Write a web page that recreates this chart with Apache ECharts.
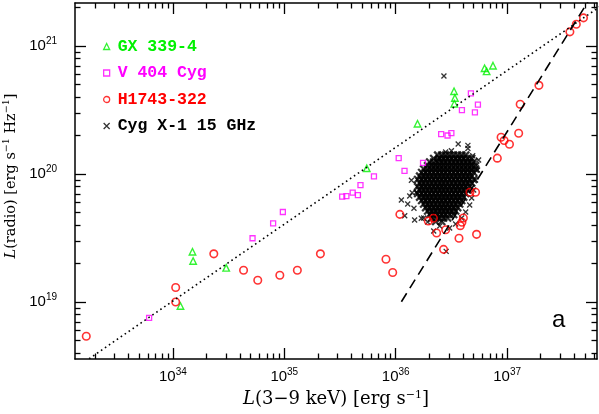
<!DOCTYPE html>
<html><head><meta charset="utf-8">
<script src="https://cdn.jsdelivr.net/npm/echarts@6/dist/echarts.min.js"></script>
<style>html,body{margin:0;padding:0;background:#fff}#c{width:599px;height:414px}</style>
</head><body><div id="c"></div>
<script>
// ---- Data ----
const h1743X = [1.67e33, 1.06e34, 1.06e34, 2.33e34, 4.31e34, 5.78e34, 9.12e34, 1.31e35, 2.11e35, 8.18e35, 9.40e35, 1.09e36, 1.96e36, 2.18e36, 2.33e36, 2.81e36, 2.69e36, 3.70e36, 3.80e36, 3.93e36, 4.05e36, 5.32e36, 4.64e36, 5.21e36, 8.17e36, 8.83e36, 9.40e36, 1.05e37, 1.27e37, 1.31e37, 1.93e37, 3.66e37, 4.18e37, 4.85e37];
const h1743Y = [5.40e18, 1.30e19, 1.00e19, 2.38e19, 1.77e19, 1.48e19, 1.62e19, 1.77e19, 2.38e19, 2.16e19, 1.70e19, 4.84e19, 4.29e19, 4.51e19, 3.46e19, 3.67e19, 2.58e19, 3.15e19, 3.95e19, 4.20e19, 4.53e19, 3.38e19, 7.20e19, 7.20e19, 1.33e20, 1.94e20, 1.83e20, 1.71e20, 2.08e20, 3.51e20, 4.93e20, 1.29e21, 1.48e21, 1.66e21];

const gx339X = [1.50e34, 1.52e34, 1.17e34, 3.01e34, 5.50e35, 1.57e36, 3.34e36, 3.40e36, 3.36e36, 6.28e36, 6.55e36, 7.47e36];
const gx339Y = [2.47e19, 2.09e19, 9.31e18, 1.85e19, 1.108e20, 2.47e20, 4.43e20, 3.93e20, 3.54e20, 6.70e20, 6.34e20, 7.02e20];

const v404X = [6.12e33, 5.19e34, 7.94e34, 9.71e34, 3.31e35, 3.61e35, 4.11e35, 4.58e35, 4.83e35, 6.38e35, 1.064e36, 1.20e36, 1.76e36, 2.56e36, 2.92e36, 3.16e36, 3.93e36, 4.73e36, 5.14e36, 5.47e36];
const v404Y = [7.53e18, 3.15e19, 4.12e19, 5.05e19, 6.67e19, 6.73e19, 7.16e19, 6.85e19, 8.18e19, 9.59e19, 1.33e20, 1.06e20, 1.22e20, 2.05e20, 2.00e20, 2.09e20, 3.16e20, 4.27e20, 3.03e20, 3.48e20];

// Cyg X-1 15 GHz dense cloud: log10 values, one row per radio level [logLr, [logLx ...]]
const cygX1Rows = [
  [20.148, [36.377, 36.413, 36.448, 36.484, 36.520, 36.556, 36.592, 36.628]],
  [20.121, [36.341, 36.395, 36.430, 36.466, 36.502, 36.538, 36.574, 36.610, 36.646, 36.682]],
  [20.094, [36.305, 36.341, 36.377, 36.413, 36.448, 36.484, 36.520, 36.556, 36.592, 36.628, 36.664, 36.700]],
  [20.066, [36.287, 36.323, 36.359, 36.395, 36.430, 36.466, 36.502, 36.538, 36.574, 36.610, 36.646, 36.682, 36.717]],
  [20.039, [36.251, 36.287, 36.323, 36.359, 36.395, 36.430, 36.466, 36.502, 36.538, 36.574, 36.610, 36.646, 36.682, 36.717]],
  [20.012, [36.233, 36.269, 36.305, 36.341, 36.377, 36.413, 36.448, 36.484, 36.520, 36.556, 36.592, 36.628, 36.664, 36.700]],
  [19.984, [36.215, 36.251, 36.287, 36.323, 36.359, 36.395, 36.430, 36.466, 36.502, 36.538, 36.574, 36.610, 36.646, 36.682]],
  [19.957, [36.197, 36.233, 36.269, 36.305, 36.341, 36.377, 36.413, 36.448, 36.484, 36.520, 36.556, 36.592, 36.628, 36.664, 36.700]],
  [19.930, [36.215, 36.251, 36.287, 36.323, 36.359, 36.395, 36.430, 36.466, 36.502, 36.538, 36.574, 36.610, 36.646, 36.682]],
  [19.902, [36.197, 36.233, 36.269, 36.305, 36.341, 36.377, 36.413, 36.448, 36.484, 36.520, 36.556, 36.592, 36.628, 36.664]],
  [19.875, [36.215, 36.251, 36.287, 36.323, 36.359, 36.395, 36.430, 36.466, 36.502, 36.538, 36.574, 36.610, 36.646]],
  [19.848, [36.197, 36.233, 36.269, 36.305, 36.341, 36.377, 36.413, 36.448, 36.484, 36.520, 36.556, 36.592, 36.628]],
  [19.820, [36.215, 36.251, 36.287, 36.323, 36.359, 36.395, 36.430, 36.466, 36.502, 36.538, 36.574, 36.610]],
  [19.793, [36.233, 36.269, 36.305, 36.341, 36.377, 36.413, 36.448, 36.484, 36.520, 36.556, 36.592]],
  [19.766, [36.251, 36.287, 36.323, 36.359, 36.395, 36.430, 36.466, 36.502, 36.538, 36.574]],
  [19.738, [36.269, 36.305, 36.341, 36.377, 36.413, 36.448, 36.484, 36.520, 36.556]],
  [19.711, [36.287, 36.323, 36.359, 36.395, 36.430, 36.466, 36.502, 36.538]],
  [19.684, [36.305, 36.341, 36.377, 36.413, 36.448, 36.484, 36.520]],
  [19.656, [36.323, 36.359, 36.395, 36.430, 36.466]],
  [19.629, [36.359, 36.413]]
];
// Cyg X-1 scattered points around the cloud (log10 Lx, log10 Lr)
const cygX1OutLogX = [36.433, 36.561, 36.648, 36.648, 36.691, 36.448, 36.500, 36.379, 36.141, 36.148, 36.186, 36.051, 36.126, 36.081, 36.164, 36.108, 36.170, 36.230, 36.453, 36.744, 36.735, 36.717, 36.700, 36.682, 36.664, 36.628, 36.592, 36.538, 36.484, 36.395, 36.287, 36.251, 36.341];
const cygX1OutLogY = [20.766, 20.234, 20.224, 20.199, 20.143, 20.172, 20.182, 20.115, 19.951, 19.854, 19.857, 19.797, 19.828, 19.674, 19.732, 19.766, 19.641, 19.654, 19.396, 20.109, 20.031, 19.953, 19.875, 19.813, 19.758, 19.703, 19.656, 19.609, 19.578, 19.594, 19.625, 19.656, 19.555];

// Relations: dotted (slope 0.6) and dashed (slope 1.4) lines, endpoints
const dottedX = [1e33, 1e38];
const dottedY = [2.56e18, 2.56e21];
const dashedX = [1.125e36, 6.0e37];
const dashedY = [1.005e19, 2.63e21];

const xTickValues = [1e34, 1e35, 1e36, 1e37];
const yTickValues = [1e19, 1e20, 1e21];
const X_MIN = 1.323e33, X_MAX = 6.41e37, Y_MIN = 3.589e18, Y_MAX = 2.168e21;

// ---- Build ----
function zip(a, b) { return a.map((v, i) => [v, b[i]]); }
const cygCloud = [];
cygX1Rows.forEach(r => r[1].forEach(lx => cygCloud.push([Math.pow(10, lx), Math.pow(10, r[0])])));
const cygOut = cygX1OutLogX.map((lx, i) => [Math.pow(10, lx), Math.pow(10, cygX1OutLogY[i])]);

function minorTicks(lo, hi) {
  const out = [];
  for (let d = 17; d <= 38; d++) for (let m = 2; m <= 9; m++) {
    const v = m * Math.pow(10, d);
    if (v > lo && v < hi) out.push(v);
  }
  return out;
}
const xMinor = minorTicks(X_MIN, X_MAX), yMinor = minorTicks(Y_MIN, Y_MAX);

const BLACK = '#000';
const tickLabelRich = {
  b: { fontFamily: 'Liberation Sans', fontSize: 15, color: BLACK, lineHeight: 20 },
  s: { fontFamily: 'Liberation Sans', fontSize: 10, color: BLACK, lineHeight: 10, verticalAlign: 'top' }
};
function fmtPow(v) { return '{b|10}{s|' + Math.round(Math.log10(v)) + '}'; }
function nameRich(size, sup, lh) {
  return {
    i: { fontFamily: 'DejaVu Serif', fontStyle: 'italic', fontSize: size, color: BLACK, lineHeight: lh },
    n: { fontFamily: 'DejaVu Serif', fontSize: size, color: BLACK, lineHeight: lh },
    s: { fontFamily: 'DejaVu Serif', fontSize: sup, color: BLACK, lineHeight: sup, verticalAlign: 'top' }
  };
}

function axis(kind, pos, major, withLabels, extra) {
  const isX = kind === 'x';
  const a = {
    type: 'log', logBase: 10, position: pos,
    min: isX ? X_MIN : Y_MIN, max: isX ? X_MAX : Y_MAX,
    axisLine: { show: major, lineStyle: { color: BLACK, width: 1.5 } },
    axisTick: { show: true, inside: true, length: major ? 11 : 5.5,
      customValues: major ? (isX ? xTickValues : yTickValues) : (isX ? xMinor : yMinor),
      lineStyle: { color: BLACK, width: 1.3 } },
    minorTick: { show: false },
    splitLine: { show: false },
    axisLabel: { show: withLabels }
  };
  return Object.assign(a, extra || {});
}

const xAxes = [
  axis('x', 'bottom', true, true, {
    axisLabel: { show: true, customValues: xTickValues, formatter: fmtPow, margin: 8, rich: tickLabelRich },
    name: '{i|L}{n|(3\u22129 keV) [erg s}{s|\u22121}{n|]}',
    nameLocation: 'middle', nameGap: 25,
    nameTextStyle: { rich: nameRich(18, 11, 20) }
  }),
  axis('x', 'bottom', false, false),
  axis('x', 'top', true, false),
  axis('x', 'top', false, false)
];
const yAxes = [
  axis('y', 'left', true, true, {
    axisLabel: { show: true, customValues: yTickValues, formatter: fmtPow, margin: 18, rich: tickLabelRich },
    name: '{i|L}{n|(radio) [erg s}{s|\u22121}{n| Hz}{s|\u22121}{n|]}',
    nameLocation: 'middle', nameGap: 46,
    nameTextStyle: { rich: nameRich(14.5, 9.5, 18), padding: [0, 0, 0, 10] }
  }),
  axis('y', 'left', false, false),
  axis('y', 'right', true, false),
  axis('y', 'right', false, false)
];

const CROSS = 'path://M0,0L10,10M10,0L0,10';
const GREEN = '#00f000', MAGENTA = '#ff00ff', RED = '#ff0000';
const CYG = 'Cyg X-1 15 GHz';

const option = {
  animation: false,
  backgroundColor: '#fff',
  grid: { left: 75, right: 2, top: 3, bottom: 55, containLabel: false, outerBoundsMode: 'none' },
  xAxis: xAxes,
  yAxis: yAxes,
  legend: {
    orient: 'vertical', left: 103, top: 38, padding: 0,
    itemWidth: 6, itemHeight: 6, itemGap: 9.5, selectedMode: false,
    textStyle: { fontFamily: 'Liberation Mono', fontWeight: 'bold', fontSize: 16.5, lineHeight: 16, padding: [0, 0, 0, 3] },
    itemStyle: { borderWidth: 1.3 },
    data: [
      { name: 'GX 339-4', textStyle: { color: GREEN } },
      { name: 'V 404 Cyg', textStyle: { color: MAGENTA } },
      { name: 'H1743-322', textStyle: { color: RED } },
      { name: CYG, textStyle: { color: BLACK } }
    ]
  },
  graphic: [{ type: 'text', left: 552, top: 308, style: { text: 'a', font: '24px "Liberation Sans"', fill: BLACK } }],
  series: [
    { name: 'dotted', type: 'line', data: zip(dottedX, dottedY), showSymbol: false, silent: true, clip: true,
      lineStyle: { color: BLACK, width: 1.6, type: [1.6, 3.2] } },
    { name: 'dashed', type: 'line', data: zip(dashedX, dashedY), showSymbol: false, silent: true, clip: true,
      lineStyle: { color: BLACK, width: 1.6, type: [10, 6] } },
    { name: CYG, type: 'scatter', data: cygOut, symbol: CROSS, symbolSize: 5,
      itemStyle: { color: 'transparent', borderColor: BLACK, borderWidth: 1.3 } },
    { name: CYG, type: 'scatter', data: cygCloud, symbol: CROSS, symbolSize: 7,
      itemStyle: { color: 'transparent', borderColor: BLACK, borderWidth: 2.3 } },
    { name: 'GX 339-4', type: 'scatter', data: zip(gx339X, gx339Y), symbol: 'triangle', symbolSize: 6.5,
      itemStyle: { color: 'transparent', borderColor: GREEN, borderWidth: 1.4 } },
    { name: 'V 404 Cyg', type: 'scatter', data: zip(v404X, v404Y), symbol: 'rect', symbolSize: 5,
      itemStyle: { color: 'transparent', borderColor: MAGENTA, borderWidth: 1.3 } },
    { name: 'H1743-322', type: 'scatter', data: zip(h1743X, h1743Y), symbol: 'circle', symbolSize: 7.5,
      itemStyle: { color: 'transparent', borderColor: RED, borderWidth: 1.6 } }
  ]
};
const chart = echarts.init(document.getElementById('c'), null, { renderer: 'canvas' });
chart.setOption(option);
</script></body></html>
